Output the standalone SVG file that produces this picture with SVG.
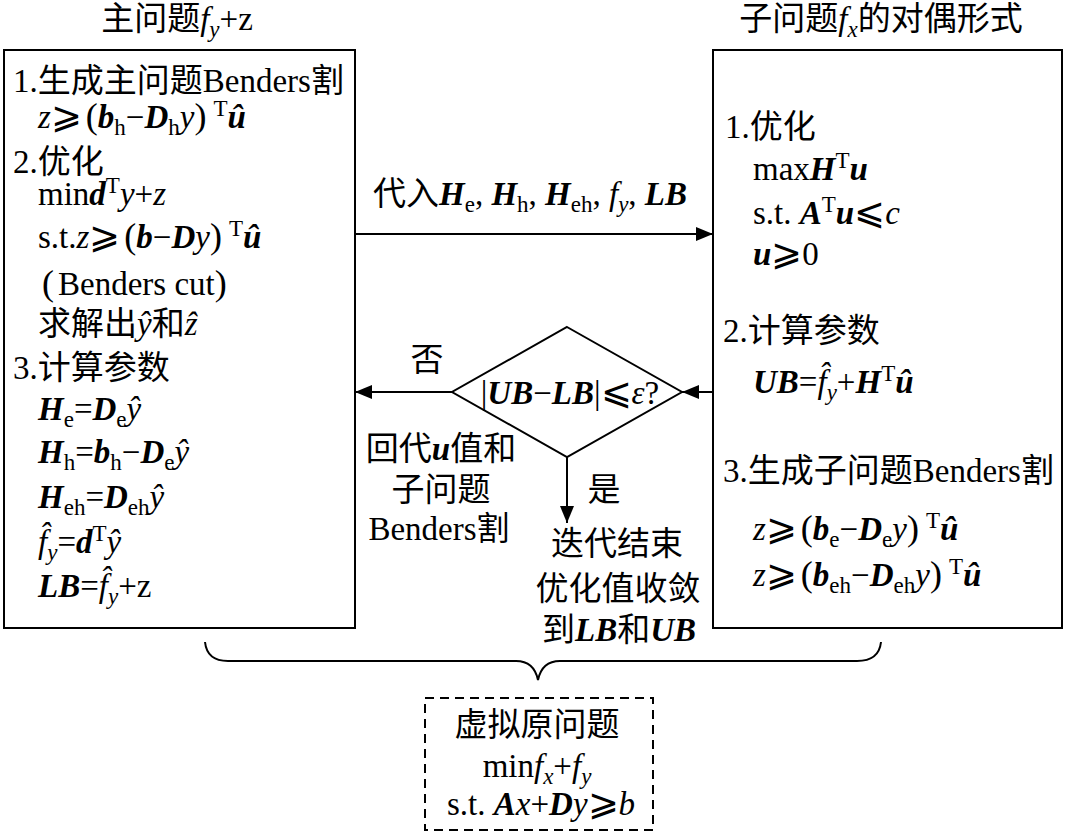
<svg xmlns="http://www.w3.org/2000/svg" width="1069" height="835" viewBox="0 0 1069 835">
<style>
text { font-family: "Liberation Serif", "Noto Sans CJK SC", serif; font-size: 33px; fill: #000; }
.i { font-style: italic; }
.b { font-weight: bold; }
.bi { font-weight: bold; font-style: italic; }
.sb { font-size: 23px; }
.ge { font-family: "DejaVu Sans", "Noto Sans CJK SC", sans-serif; font-size: 37px; font-weight: 200; }
.p { font-size: 36px; }
.c { text-anchor: middle; }
.box { fill: #fff; stroke: #000; stroke-width: 2; }
.dash { fill: #fff; stroke: #000; stroke-width: 2; stroke-dasharray: 9 6; }
.ln { fill: none; stroke: #000; stroke-width: 2; }
</style>
<defs>
<marker id="ah" markerUnits="userSpaceOnUse" markerWidth="18" markerHeight="14" refX="17" refY="7" orient="auto">
<path d="M0,0 L17,7 L0,14 z" fill="#000"/>
</marker>
</defs>
<rect width="1069" height="835" fill="#fff"/>

<g id="title-left">
<text class="c" x="177" y="30">主问题<tspan class="i">f</tspan><tspan class="i sb" dy="7">y</tspan><tspan dy="-7">+z</tspan></text>
</g>
<g id="title-right">
<text class="c" x="881" y="30">子问题<tspan class="i">f</tspan><tspan class="i sb" dy="7">x</tspan><tspan dy="-7">的对偶形式</tspan></text>
</g>

<g id="master-box">
<rect class="box" x="4" y="50" width="351" height="578"/>
<text x="13" y="92">1.生成主问题Benders割</text>
<text x="38" y="128"><tspan class="i">z</tspan><tspan class="ge">⩾</tspan><tspan class="p" dx="4">(</tspan><tspan class="bi">b</tspan><tspan class="sb" dy="7">h</tspan><tspan dy="-7">−</tspan><tspan class="bi">D</tspan><tspan class="sb" dy="7">h</tspan><tspan class="i" dy="-7">y</tspan><tspan class="p">)</tspan><tspan class="sb" dx="7" dy="-12">T</tspan><tspan class="bi" dy="12">û</tspan></text>
<text x="13" y="173">2.优化</text>
<text x="38" y="205">min<tspan class="bi">d</tspan><tspan class="sb" dy="-12">T</tspan><tspan class="i" dy="12">y</tspan>+<tspan class="i">z</tspan></text>
<text x="38" y="248">s.t.<tspan class="i">z</tspan><tspan class="ge">⩾</tspan><tspan class="p" dx="4">(</tspan><tspan class="bi">b</tspan>−<tspan class="bi">D</tspan><tspan class="i">y</tspan><tspan class="p">)</tspan><tspan class="sb" dx="7" dy="-12">T</tspan><tspan class="bi" dy="12">û</tspan></text>
<text x="42" y="295"><tspan class="p">(</tspan><tspan dx="4">Benders cut</tspan><tspan class="p">)</tspan></text>
<text x="38" y="335">求解出<tspan class="i">ŷ</tspan>和<tspan class="i">ẑ</tspan></text>
<text x="13" y="379">3.计算参数</text>
<text x="38" y="420"><tspan class="bi">H</tspan><tspan class="sb" dy="7">e</tspan><tspan dy="-7">=</tspan><tspan class="bi">D</tspan><tspan class="sb" dy="7">e</tspan><tspan class="i" dy="-7">ŷ</tspan></text>
<text x="38" y="463"><tspan class="bi">H</tspan><tspan class="sb" dy="7">h</tspan><tspan dy="-7">=</tspan><tspan class="bi">b</tspan><tspan class="sb" dy="7">h</tspan><tspan dy="-7">−</tspan><tspan class="bi">D</tspan><tspan class="sb" dy="7">e</tspan><tspan class="i" dy="-7">ŷ</tspan></text>
<text x="38" y="508"><tspan class="bi">H</tspan><tspan class="sb" dy="7">eh</tspan><tspan dy="-7">=</tspan><tspan class="bi">D</tspan><tspan class="sb" dy="7">eh</tspan><tspan class="i" dy="-7">ŷ</tspan></text>
<text x="38" y="553"><tspan class="i">f̂</tspan><tspan class="i sb" dy="7">y</tspan><tspan dy="-7">=</tspan><tspan class="bi">d</tspan><tspan class="sb" dy="-12">T</tspan><tspan class="i" dy="12">ŷ</tspan></text>
<text x="38" y="597"><tspan class="bi">LB</tspan>=<tspan class="i">f̂</tspan><tspan class="i sb" dy="7">y</tspan><tspan dy="-7">+z</tspan></text>
</g>

<g id="sub-box">
<rect class="box" x="713" y="50" width="349" height="578"/>
<text x="725" y="138">1.优化</text>
<text x="753" y="180">max<tspan class="bi">H</tspan><tspan class="sb" dy="-12">T</tspan><tspan class="bi" dy="12">u</tspan></text>
<text x="753" y="224">s.t. <tspan class="bi">A</tspan><tspan class="sb" dy="-12">T</tspan><tspan class="bi" dy="12">u</tspan><tspan class="ge">⩽</tspan><tspan class="i">c</tspan></text>
<text x="753" y="265"><tspan class="bi">u</tspan><tspan class="ge">⩾</tspan>0</text>
<text x="723" y="342">2.计算参数</text>
<text x="753" y="393"><tspan class="bi">UB</tspan>=<tspan class="i">f̂</tspan><tspan class="i sb" dy="7">y</tspan><tspan dy="-7">+</tspan><tspan class="bi">H</tspan><tspan class="sb" dy="-12">T</tspan><tspan class="bi" dy="12">û</tspan></text>
<text x="723" y="482">3.生成子问题Benders割</text>
<text x="753" y="540"><tspan class="i">z</tspan><tspan class="ge">⩾</tspan><tspan class="p" dx="4">(</tspan><tspan class="bi">b</tspan><tspan class="sb" dy="7">e</tspan><tspan dy="-7">−</tspan><tspan class="bi">D</tspan><tspan class="sb" dy="7">e</tspan><tspan class="i" dy="-7">y</tspan><tspan class="p">)</tspan><tspan class="sb" dx="7" dy="-12">T</tspan><tspan class="bi" dy="12">û</tspan></text>
<text x="753" y="586"><tspan class="i">z</tspan><tspan class="ge">⩾</tspan><tspan class="p" dx="4">(</tspan><tspan class="bi">b</tspan><tspan class="sb" dy="7">eh</tspan><tspan dy="-7">−</tspan><tspan class="bi">D</tspan><tspan class="sb" dy="7">eh</tspan><tspan class="i" dy="-7">y</tspan><tspan class="p">)</tspan><tspan class="sb" dx="7" dy="-12">T</tspan><tspan class="bi" dy="12">û</tspan></text>
</g>

<g id="decision">
<polygon class="box" points="567,327 682,392 567,457 452,392"/>
<text class="c" x="570" y="404">|<tspan class="bi">UB</tspan>−<tspan class="bi">LB</tspan>|<tspan class="ge">⩽</tspan><tspan class="i">ε</tspan>?</text>
</g>

<g id="end-node">
<text class="c" x="617" y="555">迭代结束</text>
<text class="c" x="618" y="600">优化值收敛</text>
<text class="c" x="619" y="641">到<tspan class="bi">LB</tspan>和<tspan class="bi">UB</tspan></text>
</g>

<g id="virtual-problem">
<rect class="dash" x="425" y="698" width="228" height="132"/>
<text class="c" x="537" y="736">虚拟原问题</text>
<text class="c" x="537" y="777">min<tspan class="i">f</tspan><tspan class="i sb" dy="7">x</tspan><tspan dy="-7">+</tspan><tspan class="i">f</tspan><tspan class="i sb" dy="7">y</tspan></text>
<text class="c" x="541" y="815">s.t. <tspan class="bi">A</tspan><tspan class="i">x</tspan>+<tspan class="bi">D</tspan><tspan class="i">y</tspan><tspan class="ge">⩾</tspan><tspan class="i">b</tspan></text>
</g>

<g id="brace">
<path class="ln" d="M205,642 Q207,661 228,661 L516,661 Q534,661 538,680 Q542,661 560,661 L857,661 Q879,661 881,642"/>
</g>

<g id="connectors">
<path class="ln" d="M355,234 H713" marker-end="url(#ah)"/>
<path class="ln" d="M452,392 H355" marker-end="url(#ah)"/>
<path class="ln" d="M713,392 H682" marker-end="url(#ah)"/>
<path class="ln" d="M567,457 V523" marker-end="url(#ah)"/>
<text x="373" y="205">代入<tspan class="bi">H</tspan><tspan class="sb" dy="7">e</tspan><tspan dy="-7">, </tspan><tspan class="bi">H</tspan><tspan class="sb" dy="7">h</tspan><tspan dy="-7">, </tspan><tspan class="bi">H</tspan><tspan class="sb" dy="7">eh</tspan><tspan dy="-7">, </tspan><tspan class="i">f</tspan><tspan class="i sb" dy="7">y</tspan><tspan dy="-7">, </tspan><tspan class="bi">LB</tspan></text>
<text class="c" x="427" y="371">否</text>
<text class="c" x="441" y="460">回代<tspan class="bi">u</tspan>值和</text>
<text class="c" x="441" y="501">子问题</text>
<text class="c" x="439" y="540">Benders割</text>
<text class="c" x="604" y="501">是</text>
</g>
</svg>
